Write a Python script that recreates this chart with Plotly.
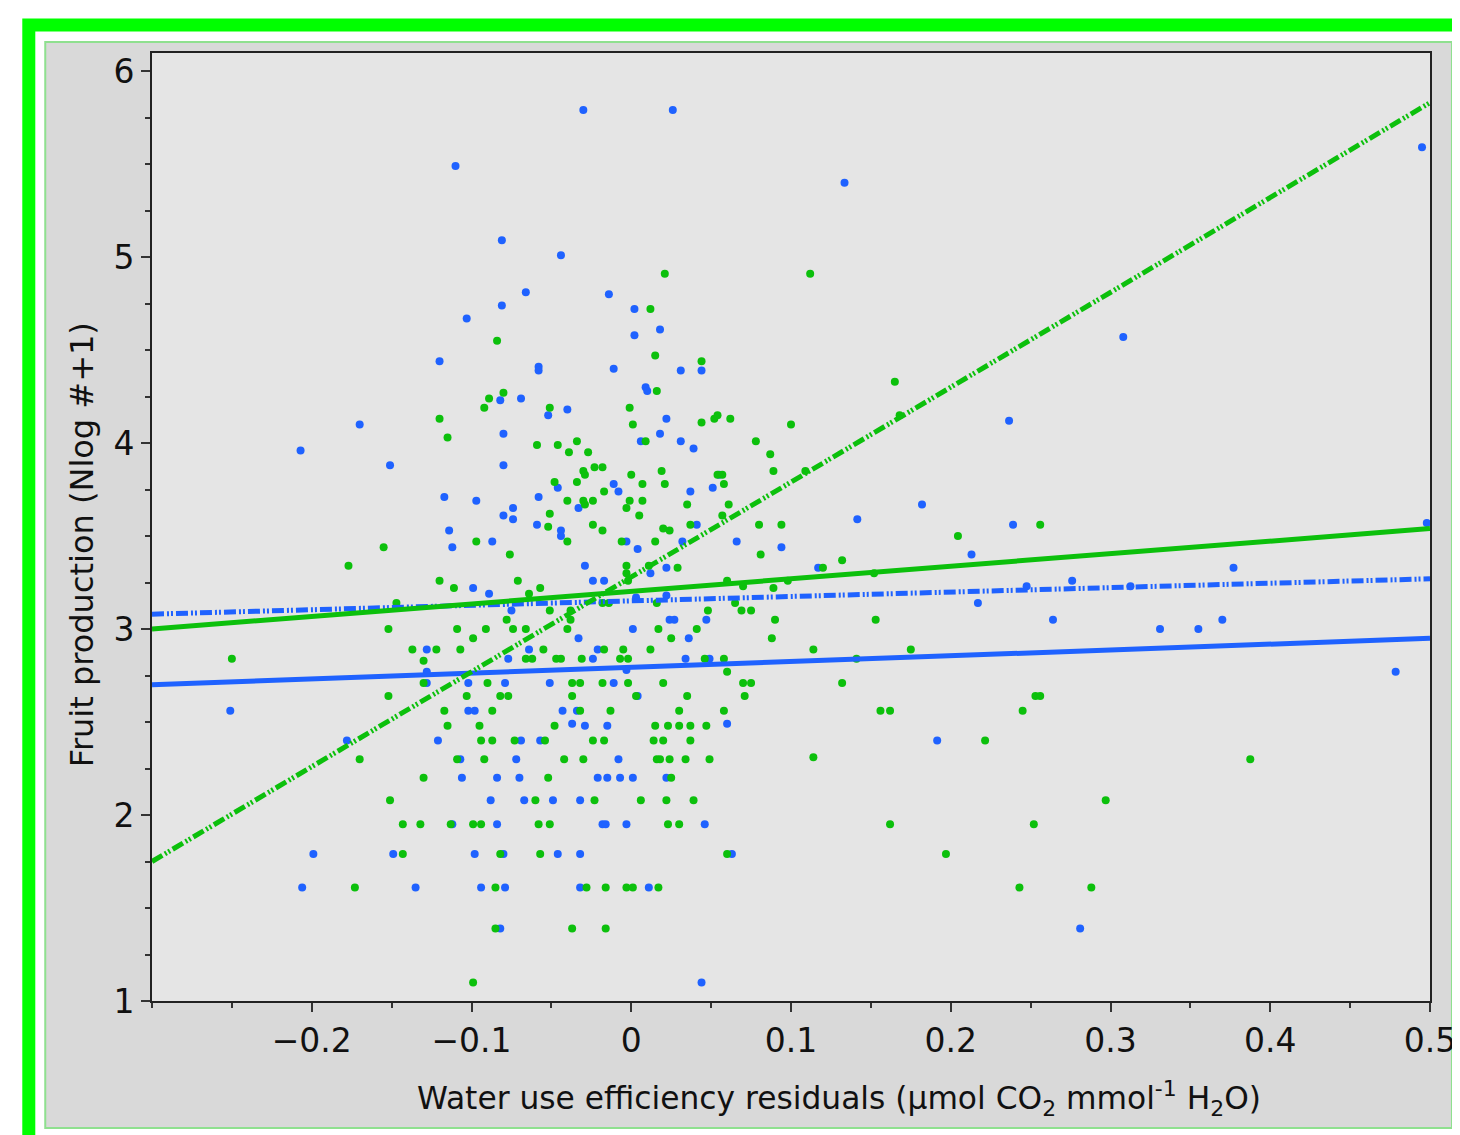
import plotly.graph_objects as go

# ---------------- data ----------------
blue_x = [-0.251, -0.207, -0.206, -0.199, -0.178, -0.170, -0.151, -0.149, -0.135, -0.128,
          -0.128, -0.128, -0.121, -0.120, -0.117, -0.114, -0.112, -0.112, -0.110, -0.107,
          -0.106, -0.103, -0.102, -0.102, -0.099, -0.098, -0.098, -0.097, -0.094, -0.089,
          -0.088, -0.087, -0.084, -0.084, -0.082, -0.082, -0.080, -0.081, -0.081, -0.080,
          -0.080, -0.080, -0.079, -0.079, -0.077, -0.075, -0.074, -0.074, -0.072, -0.070,
          -0.069, -0.069, -0.067, -0.066, -0.064, -0.059, -0.058, -0.058, -0.058, -0.057,
          -0.052, -0.051, -0.049, -0.046, -0.046, -0.044, -0.044, -0.044, -0.043, -0.040,
          -0.037, -0.034, -0.033, -0.033, -0.032, -0.032, -0.032, -0.030, -0.029, -0.029,
          -0.024, -0.024, -0.021, -0.021, -0.018, -0.016, -0.017, -0.015, -0.014, -0.015,
          -0.011, -0.011, -0.011, -0.008, -0.008, -0.007, -0.003, -0.003, -0.003, 0.001,
          0.001, 0.002, 0.002, 0.003, 0.004, 0.004, 0.006, 0.009, 0.010, 0.011,
          0.012, 0.018, 0.018, 0.022, 0.022, 0.022, 0.022, 0.024, 0.027, 0.026,
          0.031, 0.031, 0.032, 0.034, 0.036, 0.037, 0.039, 0.041, 0.044, 0.044,
          0.046, 0.047, 0.049, 0.051, 0.055, 0.060, 0.063, 0.066, 0.094, 0.117,
          0.1335, 0.1415, 0.182, 0.1915, 0.213, 0.217, 0.2365, 0.239, 0.2475, 0.264,
          0.276, 0.281, 0.308, 0.3125, 0.331, 0.355, 0.370, 0.377, 0.4785, 0.495,
          0.498]
blue_y = [2.56, 3.96, 1.61, 1.79, 2.40, 4.10, 3.88, 1.79, 1.61, 2.89,
          2.77, 2.71, 2.40, 4.44, 3.71, 3.53, 3.44, 1.95, 5.49, 2.30,
          2.20, 4.67, 2.56, 2.71, 3.22, 2.56, 1.79, 3.69, 1.61, 3.19,
          2.08, 3.47, 2.20, 1.95, 4.23, 1.39, 1.79, 5.09, 4.74, 4.05,
          3.88, 3.61, 2.71, 1.61, 2.84, 3.10, 3.65, 3.59, 2.30, 2.20,
          4.24, 2.40, 2.08, 4.81, 2.89, 3.56, 3.71, 4.41, 4.39, 2.40,
          4.15, 2.71, 2.08, 3.76, 1.79, 3.53, 3.50, 5.01, 2.56, 4.18,
          2.49, 2.56, 3.65, 2.95, 1.79, 2.08, 1.61, 5.79, 2.48, 3.34,
          3.26, 2.84, 2.89, 2.20, 1.95, 1.95, 3.26, 2.48, 4.80, 2.20,
          4.40, 2.71, 3.78, 3.74, 2.30, 2.20, 3.47, 1.95, 2.78, 2.20,
          3.00, 4.72, 4.58, 3.17, 3.43, 2.64, 4.01, 4.30, 4.28, 1.61,
          3.30, 4.61, 4.05, 4.13, 3.33, 3.18, 2.20, 3.05, 3.05, 5.79,
          4.39, 4.01, 3.47, 2.84, 2.95, 3.74, 3.97, 3.56, 1.10, 4.39,
          1.95, 3.05, 2.84, 3.76, 3.83, 2.49, 1.79, 3.47, 3.44, 3.33,
          5.40, 3.59, 3.67, 2.40, 3.40, 3.14, 4.12, 3.56, 3.23, 3.05,
          3.26, 1.39, 4.57, 3.23, 3.00, 3.00, 3.05, 3.33, 2.77, 5.59,
          3.57]

green_x = [-0.250, -0.177, -0.173, -0.170, -0.155, -0.152, -0.152, -0.151, -0.147, -0.143,
           -0.143, -0.137, -0.132, -0.130, -0.130, -0.130, -0.122, -0.120, -0.120, -0.117,
           -0.115, -0.115, -0.113, -0.111, -0.109, -0.109, -0.107, -0.103, -0.099, -0.099,
           -0.099, -0.097, -0.095, -0.094, -0.094, -0.092, -0.092, -0.089, -0.080, -0.087,
           -0.087, -0.091, -0.090, -0.085, -0.085, -0.084, -0.082, -0.082, -0.077, -0.078,
           -0.076, -0.074, -0.073, -0.071, -0.066, -0.066, -0.064, -0.062, -0.060, -0.059,
           -0.058, -0.057, -0.057, -0.055, -0.054, -0.052, -0.052, -0.051, -0.051, -0.051,
           -0.051, -0.048, -0.047, -0.048, -0.046, -0.044, -0.042, -0.040, -0.040, -0.040,
           -0.039, -0.038, -0.038, -0.037, -0.037, -0.037, -0.034, -0.034, -0.032, -0.032,
           -0.031, -0.030, -0.030, -0.030, -0.029, -0.029, -0.028, -0.027, -0.024, -0.024,
           -0.024, -0.023, -0.023, -0.018, -0.018, -0.018, -0.017, -0.017, -0.017, -0.016,
           -0.016, -0.014, -0.013, -0.007, -0.006, -0.005, -0.003, -0.003, -0.003, -0.003,
           -0.002, -0.002, -0.002, -0.001, -0.001, 0.000, 0.001, 0.001, 0.003, 0.005,
           0.006, 0.007, 0.007, 0.009, 0.011, 0.012, 0.012, 0.014, 0.015, 0.015,
           0.015, 0.016, 0.016, 0.016, 0.017, 0.017, 0.018, 0.019, 0.020, 0.020,
           0.020, 0.021, 0.021, 0.022, 0.023, 0.023, 0.024, 0.024, 0.025, 0.025,
           0.029, 0.030, 0.030, 0.030, 0.034, 0.035, 0.035, 0.037, 0.037, 0.037,
           0.039, 0.041, 0.044, 0.044, 0.046, 0.047, 0.048, 0.049, 0.052, 0.054,
           0.054, 0.057, 0.057, 0.058, 0.058, 0.058, 0.060, 0.060, 0.060, 0.061,
           0.062, 0.065, 0.069, 0.070, 0.070, 0.071, 0.075, 0.075, 0.078, 0.080,
           0.081, 0.087, 0.088, 0.089, 0.089, 0.090, 0.094, 0.098, 0.100, 0.109,
           0.112, 0.114, 0.114, 0.120, 0.132, 0.132, 0.141, 0.152, 0.153, 0.156,
           0.162, 0.162, 0.165, 0.168, 0.175, 0.197, 0.2045, 0.2215, 0.243, 0.245,
           0.252, 0.253, 0.256, 0.256, 0.288, 0.297, 0.3875, -0.018]
green_y = [2.84, 3.34, 1.61, 2.30, 3.44, 3.00, 2.64, 2.08, 3.14, 1.95,
           1.79, 2.89, 1.95, 2.83, 2.71, 2.20, 2.89, 4.13, 3.26, 2.56,
           4.03, 2.48, 1.95, 3.22, 3.00, 2.30, 2.89, 2.64, 2.95, 1.95,
           1.10, 3.47, 2.48, 1.95, 2.40, 2.30, 4.19, 4.24, 4.27, 2.56,
           2.40, 3.00, 2.71, 1.39, 1.61, 4.55, 2.64, 1.79, 2.64, 3.05,
           3.40, 3.00, 2.40, 3.26, 2.84, 3.00, 3.19, 2.84, 2.08, 3.99,
           1.95, 3.22, 1.79, 2.89, 2.40, 2.20, 3.55, 3.62, 3.10, 4.19,
           1.95, 3.79, 2.84, 2.48, 3.99, 2.84, 2.30, 3.69, 3.47, 3.00,
           3.95, 3.10, 3.05, 2.71, 2.64, 1.39, 3.79, 4.01, 2.56, 2.71,
           2.84, 3.85, 3.69, 2.30, 3.67, 3.83, 1.61, 3.95, 3.69, 2.40,
           3.56, 3.87, 2.08, 3.87, 3.53, 3.14, 3.74, 2.89, 2.40, 1.39,
           1.61, 3.14, 2.56, 2.84, 3.47, 2.89, 3.65, 3.34, 3.30, 1.61,
           3.26, 2.84, 2.71, 3.69, 4.19, 3.83, 4.10, 1.61, 2.64, 3.61,
           2.08, 3.78, 3.69, 4.01, 3.34, 2.89, 4.72, 2.40, 3.47, 2.48,
           4.47, 4.28, 2.30, 3.14, 1.61, 3.00, 2.30, 3.85, 3.54, 2.71,
           2.40, 4.91, 3.78, 2.08, 2.48, 1.95, 3.53, 2.30, 2.95, 2.20,
           3.33, 2.56, 2.48, 1.95, 2.30, 2.64, 3.67, 2.48, 3.56, 2.40,
           2.08, 3.00, 4.44, 4.11, 2.84, 2.48, 3.10, 2.30, 4.13, 4.15,
           3.83, 3.61, 3.83, 2.84, 3.78, 2.56, 3.26, 2.77, 1.79, 3.67,
           4.13, 3.14, 3.10, 3.23, 2.71, 2.64, 3.10, 2.71, 4.01, 3.56,
           3.40, 3.94, 2.95, 3.22, 3.85, 3.05, 3.56, 3.26, 4.10, 3.85,
           4.91, 2.89, 2.31, 3.33, 3.37, 2.71, 2.84, 3.30, 3.05, 2.56,
           2.56, 1.95, 4.33, 4.15, 2.89, 1.79, 3.50, 2.40, 1.61, 2.56,
           1.95, 2.64, 2.64, 3.56, 1.61, 2.08, 2.30, 2.71]

# fitted lines (end values at the x-range limits)
fit_x = [-0.3, 0.5]
green_solid_y = [3.00, 3.54]
green_dash_y = [1.75, 5.83]
blue_solid_y = [2.70, 2.95]
blue_dash_y = [3.08, 3.27]

x_ticks = [-0.2, -0.1, 0, 0.1, 0.2, 0.3, 0.4, 0.5]
x_ticktext = ["\u22120.2", "\u22120.1", "0", "0.1", "0.2", "0.3", "0.4", "0.5"]
y_ticks = [1, 2, 3, 4, 5, 6]

x_title = "Water use efficiency residuals (\u00b5mol CO<sub>2</sub> mmol<sup>-1</sup> H<sub>2</sub>O)"
y_title = "Fruit production (Nlog #+1)"

# ---------------- styling ----------------
BLUE = "#1f62ff"
GREEN = "#0cc00c"
FONT = "DejaVu Sans"
W, H = 1460, 1135
OFF = 8  # page body margin of the html page
ML, MR, MT, MB = 152 - OFF, 27 + OFF, 53 - OFF, 134 + OFF
PW, PH = W - ML - MR, H - MT - MB


def px_x(p):
    return (p - OFF - ML) / PW


def px_y(p):
    return (H - MB - (p - OFF)) / PH


fig = go.Figure()

fig.add_trace(go.Scatter(x=blue_x, y=blue_y, mode="markers",
                         marker=dict(color=BLUE, size=8, line=dict(width=0)),
                         showlegend=False, hoverinfo="skip"))
fig.add_trace(go.Scatter(x=green_x, y=green_y, mode="markers",
                         marker=dict(color=GREEN, size=8, line=dict(width=0)),
                         showlegend=False, hoverinfo="skip"))

dashpat = "12px,3px,2px,2px,2px,3px"
fig.add_trace(go.Scatter(x=fit_x, y=blue_solid_y, mode="lines",
                         line=dict(color=BLUE, width=5), showlegend=False))
fig.add_trace(go.Scatter(x=fit_x, y=blue_dash_y, mode="lines",
                         line=dict(color=BLUE, width=5, dash=dashpat), showlegend=False))
fig.add_trace(go.Scatter(x=fit_x, y=green_solid_y, mode="lines",
                         line=dict(color=GREEN, width=5), showlegend=False))
fig.add_trace(go.Scatter(x=fit_x, y=green_dash_y, mode="lines",
                         line=dict(color=GREEN, width=5, dash=dashpat), showlegend=False))

shapes = [
    # gray panel with pale green border
    dict(type="rect", xref="paper", yref="paper", layer="below",
         x0=px_x(45), x1=px_x(1455), y0=px_y(1128), y1=px_y(42),
         fillcolor="#d9d9d9", line=dict(color="#8fe08f", width=2)),
    # plot area background
    dict(type="rect", xref="paper", yref="paper", layer="below",
         x0=0, x1=1, y0=0, y1=1, fillcolor="#e5e5e5", line=dict(width=0)),
    # bright green outer frame
    dict(type="rect", xref="paper", yref="paper", layer="above",
         x0=px_x(28.5), x1=px_x(1485), y0=px_y(1170), y1=px_y(25),
         fillcolor="rgba(0,0,0,0)", line=dict(color="#00ff00", width=13)),
]

annotations = [
    dict(text=x_title, xref="paper", yref="paper", x=px_x(841), y=px_y(1098),
         xanchor="center", yanchor="middle", showarrow=False,
         font=dict(family=FONT, size=31.3, color="#111111")),
    dict(text=y_title, xref="paper", yref="paper", x=px_x(82), y=px_y(545),
         xanchor="center", yanchor="middle", showarrow=False, textangle=-90,
         font=dict(family=FONT, size=32, color="#111111")),
]

axis_common = dict(showline=True, mirror=True, linecolor="#222222", linewidth=2,
                   showgrid=False, zeroline=False, ticks="outside", ticklen=9,
                   tickwidth=2, tickcolor="#333333",
                   tickfont=dict(family=FONT, size=33, color="#111111"))

fig.update_layout(
    width=W, height=H,
    margin=dict(l=ML, r=MR, t=MT, b=MB),
    paper_bgcolor="white",
    plot_bgcolor="rgba(0,0,0,0)",
    shapes=shapes,
    annotations=annotations,
    xaxis=dict(range=[-0.3, 0.5], tickmode="array", tickvals=x_ticks, ticktext=x_ticktext,
               minor=dict(tick0=0, dtick=0.05, ticklen=5, tickwidth=2, tickcolor="#333333",
                          ticks="outside"),
               **axis_common),
    yaxis=dict(range=[1, 6.097], tickmode="array", tickvals=y_ticks,
               minor=dict(tick0=0, dtick=0.25, ticklen=5, tickwidth=2, tickcolor="#333333",
                          ticks="outside"),
               **axis_common),
)

fig.write_html("out.html")
